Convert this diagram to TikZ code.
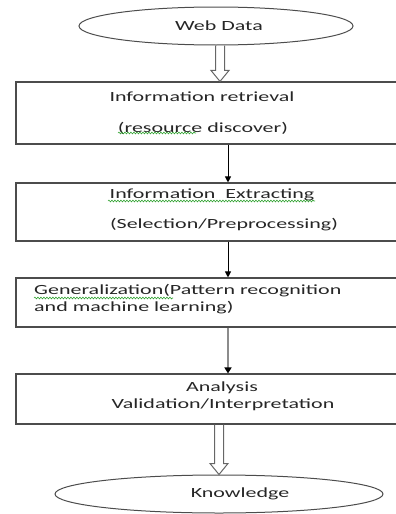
\documentclass[tikz,border=0pt]{standalone}
\usepackage{fontspec}
\setmainfont{Carlito}
\usetikzlibrary{arrows.meta,calc,shapes.geometric,decorations.pathmorphing}
\newcommand\sx[1]{\scalebox{1.57}[1]{#1}}
\newcommand\hollowarrow[2]{\draw[hollow] ($(#1)+(-4.5,0)$) -- ($(#2)+(-4.5,-11)$) -- ($(#2)+(-9,-11)$) -- (#2) -- ($(#2)+(9,-11)$) -- ($(#2)+(4.5,-11)$) -- ($(#1)+(4.5,0)$);}
\begin{document}
\begin{tikzpicture}[x=1pt,y=-1pt,
 box/.style={draw=black!70,line width=1.1pt,inner sep=0,minimum width=382pt},
 oval/.style={ellipse,draw=black!70,line width=1pt,inner sep=0},
 txt/.style={inner sep=0,text=black!85,font=\fontsize{14}{16}\selectfont},
 thinarrow/.style={line width=1pt,-{Triangle[width=6pt,length=6pt]}},
 hollow/.style={draw=black!60,line width=1pt,line join=miter},
 squiggle/.style={draw=green!55!black!80,line width=0.6pt,decorate,decoration={snake,amplitude=0.9pt,segment length=3pt}}]
\path[use as bounding box] (0,0) rectangle (396,514);
\clip (0,0) rectangle (396,514);

% ellipses and boxes
\node[oval,minimum width=274pt,minimum height=38pt] (w) at (216,26) {};
\node[txt] (wt) at (219,26) {\sx{Web Data}};

\node[box,minimum height=62pt] (b1) at (207,113) {};
\node[txt] (t1a) at (202,97) {\sx{Information retrieval}};
\node[txt] (t1b) at (203,128) {\sx{(resource discover)}};

\node[box,minimum height=58pt] (b2) at (207,212) {};
\node[txt] (t2a) at (212,195) {\sx{Information\ \ Extracting}};
\node[txt] (t2b) at (224,225) {\sx{(Selection/Preprocessing)}};

\node[box,minimum height=49pt] (b3) at (207,302.5) {};
\node[txt,anchor=west] (t3a) at (34,291) {\sx{Generalization(Pattern recognition}};
\node[txt,anchor=west] (t3b) at (34,308) {\sx{and machine learning)}};

\node[box,minimum height=50pt] (b4) at (207,399) {};
\node[txt] (t4a) at (222,388) {\sx{Analysis}};
\node[txt] (t4b) at (223,405) {\sx{Validation/Interpretation}};

\node[oval,minimum width=328pt,minimum height=38pt] (k) at (219,494) {};
\node[txt] (kt) at (240,494) {\sx{Knowledge}};

% spell-check underlines
\draw[squiggle] (118,133) -- (196,133);
\draw[squiggle] (108,201) -- (315,201);
\draw[squiggle] (34,298) -- (173,298);

% connectors
\coordinate (h1s) at ($(w.south)+(4,0)$);
\coordinate (h1e) at ($(b1.north)+(13,0)$);
\hollowarrow{h1s}{h1e}

\draw[thinarrow] ([xshift=21pt]b1.south) -- ([xshift=21pt]b2.north);
\draw[thinarrow] ([xshift=21pt]b2.south) -- ([xshift=21pt]b3.north);
\draw[line width=1.6pt,draw=black!45,-{Triangle[width=7pt,length=6pt,color=black]}] ([xshift=21pt]b3.south) -- ([xshift=21pt]b4.north);

\coordinate (h5s) at ($(b4.south)+(12,0)$);
\hollowarrow{h5s}{k.north}
\end{tikzpicture}
\end{document}
